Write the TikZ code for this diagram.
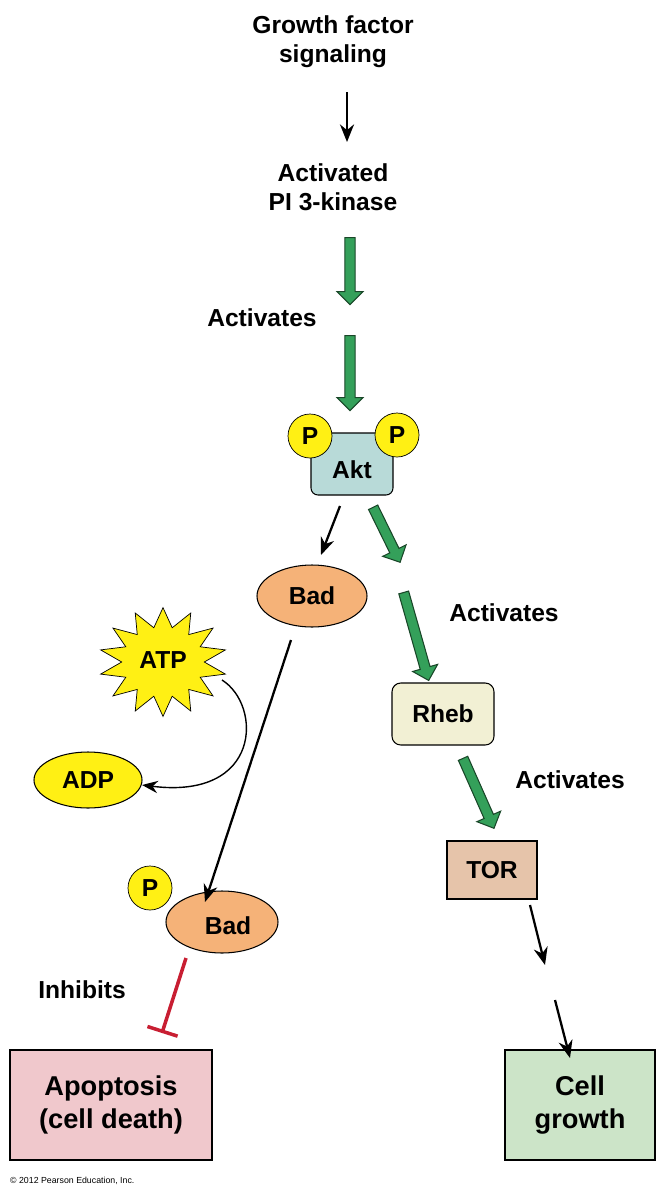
\documentclass[tikz,border=0pt]{standalone}
\usepackage{fontspec}
\setmainfont{Liberation Sans}
\usetikzlibrary{shapes.geometric,shapes.arrows,shapes.misc,arrows.meta,calc}
\definecolor{garr}{RGB}{52,160,90}
\definecolor{gdark}{RGB}{25,70,40}
\definecolor{aktc}{RGB}{184,218,216}
\definecolor{badc}{RGB}{245,178,120}
\definecolor{rhebc}{RGB}{242,240,212}
\definecolor{torc}{RGB}{230,196,170}
\definecolor{apoc}{RGB}{240,200,204}
\definecolor{cellc}{RGB}{204,228,200}
\definecolor{ylw}{RGB}{255,240,20}
\definecolor{inh}{RGB}{200,30,50}
\newcommand{\garrow}[2]{\path let \p1=($(#2)-(#1)$), \n1={atan2(\y1,\x1)}, \n2={veclen(\x1,\y1)} in
  node[single arrow, draw=gdark, fill=garr, line width=0.6pt, minimum height=\n2, inner xsep=0pt, inner ysep=2.6pt,
  single arrow head extend=4.5pt, single arrow head indent=0pt, rotate=\n1] at ($(#1)!0.5!(#2)$) {};}
\begin{document}
\begin{tikzpicture}[x=0.02cm,y=-0.02cm,font=\bfseries\fontsize{14}{16.5}\selectfont,
  lbl/.style={align=center,inner sep=1pt},
  blk/.style={-{Stealth[length=10pt,width=8pt]},line width=1.3pt},
  pcirc/.style={circle,draw,fill=ylw,minimum size=44*0.02cm,inner sep=0pt},
  ell/.style={ellipse,draw,line width=0.6pt,inner sep=0pt}]
\useasboundingbox (0,0) rectangle (667,1200);
\node[lbl] (gf) at (333,42) {Growth factor\\signaling};
\node[lbl] (pi3) at (333,187) {Activated\\PI 3-kinase};
\draw[blk] (347,92) -- (347,142);
\coordinate (g1a) at (350,235); \coordinate (g1b) at (350,302);
\coordinate (g2a) at (350,333); \coordinate (g2b) at (350,408);
\garrow{g1a}{g1b}
\garrow{g2a}{g2b}
\node[lbl] (act1) at (262,318) {Activates};
% Akt
\node[draw,fill=aktc,rounded corners=4pt,minimum width=82*0.02cm,minimum height=62*0.02cm,line width=0.6pt] (akt) at (352,464) {};
\node[pcirc] (p1) at (310,436) {P};
\node[pcirc] (p2) at (397,435) {P};
\node (akttxt) at (352,470) {Akt};
% Bad
\node[ell,fill=badc,minimum width=110*0.02cm,minimum height=62*0.02cm] (bad) at (312,596) {Bad};
\coordinate (ba1) at (340,506); \coordinate (ba2) at (321,555);
\draw[blk] (ba1) -- (ba2);
\coordinate (g3a) at (372,505); \coordinate (g3b) at (399,560);
\garrow{g3a}{g3b}
\coordinate (g4a) at (403,590); \coordinate (g4b) at (428,678);
\garrow{g4a}{g4b}
\node[lbl] (act2) at (504,613) {Activates};
\node[draw,fill=rhebc,rounded corners=5pt,minimum width=102*0.02cm,minimum height=62*0.02cm,line width=0.6pt] (rheb) at (443,714) {Rheb};
\coordinate (g5a) at (462,756); \coordinate (g5b) at (493,826);
\garrow{g5a}{g5b}
\node[lbl] (act3) at (570,780) {Activates};
\node[draw,fill=torc,minimum width=90*0.02cm,minimum height=58*0.02cm,line width=0.6pt] (tor) at (492,870) {TOR};
% ATP / ADP
\node[star,star points=14,star point ratio=1.55,draw,fill=ylw,minimum size=128*0.02cm,inner sep=0pt,yscale=0.85] (atp) at (163,662) {};
\node at (163,660) {ATP};
\node[ell,fill=ylw,minimum width=108*0.02cm,minimum height=56*0.02cm] (adp) at (88,780) {ADP};
\coordinate (c1) at (222,680);
\coordinate (c2) at (142,785);
\draw[-{Stealth[length=9pt,width=7pt]},line width=0.8pt] (c1) .. controls (262,705) and (262,800) .. (c2);
% P-Bad
\node[ell,fill=badc,minimum width=112*0.02cm,minimum height=62*0.02cm] (pbad) at (222,922) {};
\node[pcirc] (p3) at (150,888) {P};
\node at (228,926) {Bad};
\coordinate (bl1) at (291,640); \coordinate (bl2) at (205,902);
\draw[blk] (bl1) -- (bl2);
% Inhibits
\coordinate (r1) at (186,958); \coordinate (r2) at (162,1033);
\draw[inh,line width=2pt,-{Bar[width=18pt,line width=2pt]}] (r1) -- (r2);
\node[lbl] (inhl) at (82,990) {Inhibits};
% outputs
\node[draw,fill=apoc,minimum width=202*0.02cm,minimum height=110*0.02cm,align=center,line width=0.6pt,font=\bfseries\fontsize{15.5}{19}\selectfont] (apo) at (111,1105) {Apoptosis\\(cell death)};
\node[draw,fill=cellc,minimum width=150*0.02cm,minimum height=110*0.02cm,align=center,line width=0.6pt,font=\bfseries\fontsize{15.5}{19}\selectfont] (cg) at (580,1105) {Cell\\growth};
\coordinate (k1) at (530,905); \coordinate (k2) at (545,965);
\coordinate (k3) at (555,1000); \coordinate (k4) at (570,1058);
\draw[blk] (k1) -- (k2);
\draw[blk] (k3) -- (k4);
\node[font=\fontsize{5}{6}\selectfont,anchor=west] (copy) at (4,1181) {© 2012 Pearson Education, Inc.};
\end{tikzpicture}
\end{document}
